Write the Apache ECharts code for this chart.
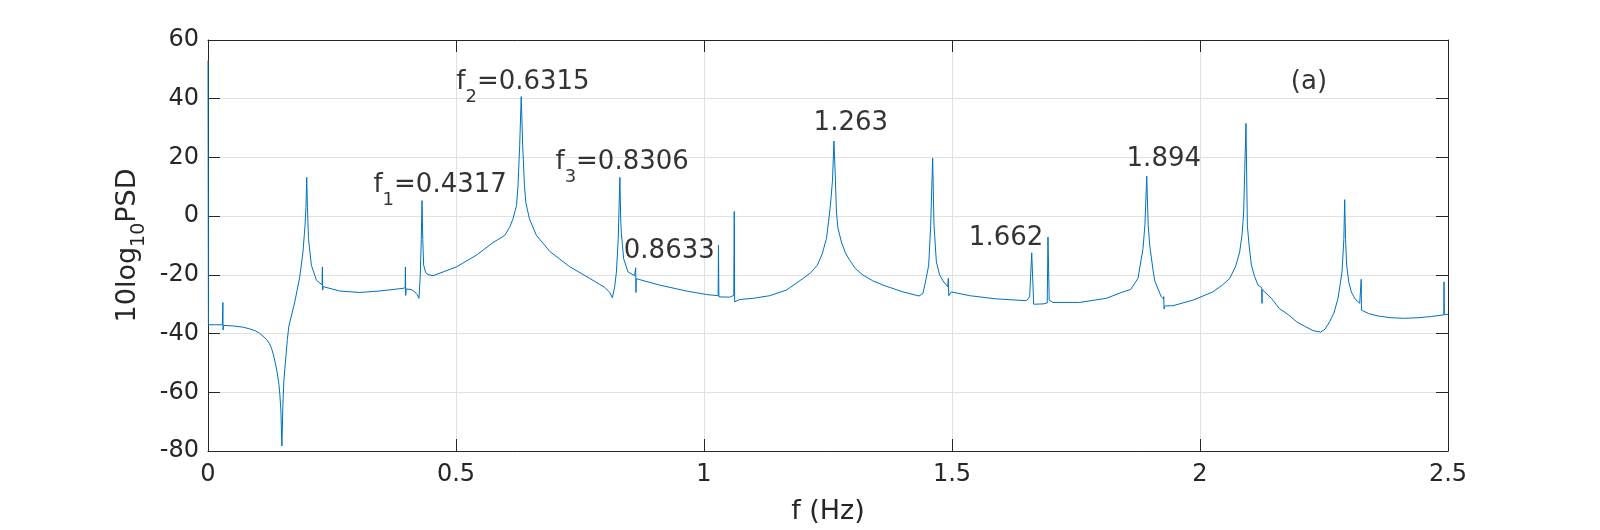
<!DOCTYPE html>
<html>
<head>
<meta charset="utf-8">
<script src="https://cdn.jsdelivr.net/npm/echarts@6/dist/echarts.min.js"></script>
<style>
  html, body { margin: 0; padding: 0; background: #fff; }
  #echarts { width: 1600px; height: 530px; }
</style>
</head>
<body>
<div id="echarts"></div>
<script>
// frequency (Hz) and PSD (dB)
var freqHz = [
    0.0000, 0.0008, 0.0290, 0.0300, 0.0304, 0.0310, 0.050, 0.070, 0.084, 0.096,
    0.104, 0.111, 0.1177, 0.124, 0.128, 0.132, 0.1365, 0.140, 0.143, 0.145,
    0.147, 0.149, 0.151, 0.153, 0.1567, 0.160, 0.163, 0.164, 0.175, 0.185,
    0.1915, 0.1956, 0.1975, 0.199, 0.2005, 0.2026, 0.2084, 0.2185, 0.2300, 0.2306,
    0.2312, 0.2320, 0.2655, 0.3058, 0.346, 0.393, 0.3975, 0.3980, 0.3986, 0.3995,
    0.410, 0.4167, 0.422, 0.4254, 0.428, 0.4300, 0.4315, 0.4330, 0.4348, 0.4390,
    0.4436, 0.4536, 0.474, 0.5008, 0.541, 0.5746, 0.598, 0.608, 0.615, 0.622,
    0.625, 0.6284, 0.6315, 0.6345, 0.638, 0.641, 0.648, 0.662, 0.689, 0.729,
    0.7696, 0.800, 0.810, 0.8153, 0.820, 0.8234, 0.8270, 0.8304, 0.8320, 0.8335,
    0.838, 0.8468, 0.860, 0.8620, 0.8623, 0.8628, 0.8635, 0.9107, 0.9645, 1.005,
    1.0285, 1.0292, 1.0300, 1.0518, 1.0600, 1.0610, 1.0618, 1.072, 1.099, 1.1325,
    1.166, 1.200, 1.215, 1.2286, 1.238, 1.2468, 1.251, 1.2548, 1.2590, 1.2620,
    1.2650, 1.267, 1.270, 1.277, 1.285, 1.2937, 1.305, 1.3206, 1.340, 1.361,
    1.401, 1.4335, 1.4415, 1.448, 1.453, 1.457, 1.461, 1.4637, 1.4685, 1.475,
    1.482, 1.4915, 1.4925, 1.4935, 1.4985, 1.5357, 1.5895, 1.650, 1.6566, 1.6607,
    1.6647, 1.6835, 1.6920, 1.6935, 1.6960, 1.7036, 1.7574, 1.811, 1.8447, 1.860,
    1.875, 1.885, 1.889, 1.8926, 1.8955, 1.8986, 1.905, 1.9087, 1.922, 1.9265,
    1.9270, 1.9275, 1.9290, 1.9456, 1.986, 2.026, 2.045, 2.060, 2.072, 2.080,
    2.085, 2.088, 2.0927, 2.0955, 2.099, 2.1036, 2.110, 2.117, 2.1245, 2.1250,
    2.1255, 2.144, 2.160, 2.1775, 2.195, 2.211, 2.228, 2.2434, 2.252, 2.2615,
    2.270, 2.2783, 2.2863, 2.2900, 2.2917, 2.2935, 2.2957, 2.300, 2.305, 2.313,
    2.3220, 2.3250, 2.3256, 2.340, 2.359, 2.385, 2.4127, 2.440, 2.4665, 2.4915,
    2.4920, 2.4926, 2.500
];
var psdDb = [
    53, -37, -37, -29.4, -38.8, -37.2, -37.4, -37.8, -38.4, -39.1,
    -39.9, -40.9, -42, -43.4, -45, -47.3, -50.6, -53.8, -57.4, -61,
    -66.4, -78.3, -64, -56, -48.4, -42, -37.5, -37, -29.2, -20.7,
    -12.2, -3.2, 3, 13.2, 3, -7.7, -16.7, -21.8, -23.4, -17.3,
    -25.2, -24, -25.5, -26, -25.5, -24.6, -24.4, -17.3, -27, -24.8,
    -25, -25.8, -26.8, -28, -20, -8, 5.3, -8, -16.7, -19.3,
    -19.9, -20.3, -19, -17.3, -13.3, -9, -6.6, -3.8, -0.9, 3.6,
    10.4, 24, 40.7, 24, 10.4, 4.5, -0.9, -6.5, -12, -17.2,
    -21.2, -24.3, -26, -27.8, -24, -19, -8, 13.2, -1, -6,
    -14.5, -19, -20.3, -20.4, -17.6, -26, -21.3, -23.5, -25.5, -26.7,
    -27.1, -9.9, -27.5, -27.6, -27, 1.6, -29.2, -28.4, -28, -27.1,
    -25.2, -21.2, -19.3, -16.7, -13, -7.7, -2, 3.6, 12, 25.6,
    12, 1.4, -4, -8.8, -12.5, -15, -17.8, -20.1, -22, -23.5,
    -25.8, -27.2, -26.3, -21.2, -16.7, -3.2, 19.8, -3.2, -15.6, -20,
    -22.1, -24.1, -21.2, -27.1, -25.8, -27.1, -28.2, -28.8, -27.5, -12.5,
    -30, -29.9, -29.6, -7.1, -28.6, -29.4, -29.4, -28, -25.8, -25,
    -21.2, -11.1, -3, 13.6, -3, -9.9, -18, -22, -27.5, -28.2,
    -27.4, -31.6, -30.6, -30.5, -28.6, -25.8, -23.5, -21.2, -17, -12.2,
    -6, 1.4, 31.6, -3.2, -10, -16.7, -20.5, -23.5, -24.4, -29.7,
    -25, -28, -31.5, -33.5, -36, -37.5, -39, -39.5, -38.5, -35.9,
    -33, -28, -19, -8, 5.6, -8, -16.7, -22.5, -25.8, -28.3,
    -29.7, -21.5, -32, -33.2, -34, -34.6, -34.8, -34.6, -34.2, -33.6,
    -22.4, -33.6, -33.4
];

var xTicks = [0, 0.5, 1, 1.5, 2, 2.5];
var yTicks = [-80, -60, -40, -20, 0, 20, 40, 60];

// peak labels: centre of the main text, in data units
var annoX = [0.468, 0.635, 0.835, 0.930, 1.296, 1.609, 1.927, 2.2196];
var annoY = [10.5, 45.7, 18.5, -12.1, 31.8, -7.6, 19.3, 45.5];
var annoText = [
    '{m|f}{s|1}{m|=0.4317}',
    '{m|f}{s|2}{m|=0.6315}',
    '{m|f}{s|3}{m|=0.8306}',
    '{m|0.8633}',
    '{m|1.263}',
    '{m|1.662}',
    '{m|1.894}',
    '{m|(a)}'
];

var fontName = 'DejaVu Sans',
    axisColor = '#262626';

var lineData = freqHz.map(function (f, i) { return [f, psdDb[i]]; });
var annoData = annoX.map(function (x, i) { return { value: [x, annoY[i]], text: annoText[i] }; });

function boxAxis(pos, isX, showLabel) {
    var ticks = isX ? xTicks : yTicks;
    return {
        type: 'value',
        position: pos,
        min: ticks[0],
        max: ticks[ticks.length - 1],
        interval: ticks[1] - ticks[0],
        axisLine: { show: true, onZero: false, lineStyle: { color: axisColor, width: 1 } },
        axisTick: { show: true, inside: true, length: 12, lineStyle: { color: axisColor } },
        axisLabel: {
            show: showLabel,
            color: axisColor,
            fontFamily: fontName,
            fontSize: 24,
            margin: isX ? 12 : 9
        },
        splitLine: { show: showLabel, lineStyle: { color: '#e1e1e1', width: 1 } }
    };
}

var xMain = boxAxis('bottom', true, true);
xMain.name = 'f (Hz)';
xMain.nameLocation = 'middle';
xMain.nameGap = 47;
xMain.nameTextStyle = { color: axisColor, fontFamily: fontName, fontSize: 27 };

var yMain = boxAxis('left', false, true);
yMain.name = '10log{s|10}PSD';
yMain.nameLocation = 'middle';
yMain.nameRotate = 90;
yMain.nameGap = 51;
yMain.nameTextStyle = {
    color: axisColor, fontFamily: fontName, fontSize: 27,
    rich: {
        s: { color: axisColor, fontFamily: fontName, fontSize: 19, padding: [22, 0, 0, 0] }
    }
};

var myChart = echarts.init(document.getElementById('echarts'), null, { renderer: 'canvas' });

var option = {
    animation: false,
    backgroundColor: '#fff',
    grid: { left: 208, right: 152, top: 40, bottom: 78, containLabel: false },
    xAxis: [xMain, boxAxis('top', true, false)],
    yAxis: [yMain, boxAxis('right', false, false)],
    series: [
        {
            name: 'PSD',
            type: 'line',
            data: lineData,
            showSymbol: false,
            symbol: 'none',
            sampling: null,
            lineStyle: { color: '#0072bd', width: 1 },
            z: 3
        },
        {
            name: 'labels',
            type: 'scatter',
            data: annoData,
            symbolSize: 0,
            silent: true,
            z: 5,
            label: {
                show: true,
                position: 'inside',
                color: '#000',
                formatter: function (p) { return p.data.text; },
                rich: {
                    m: { color: '#000', fontFamily: fontName, fontSize: 26 },
                    s: { color: '#000', fontFamily: fontName, fontSize: 18, padding: [30, 0, 0, 0] }
                }
            }
        }
    ]
};

myChart.setOption(option);
</script>
</body>
</html>
